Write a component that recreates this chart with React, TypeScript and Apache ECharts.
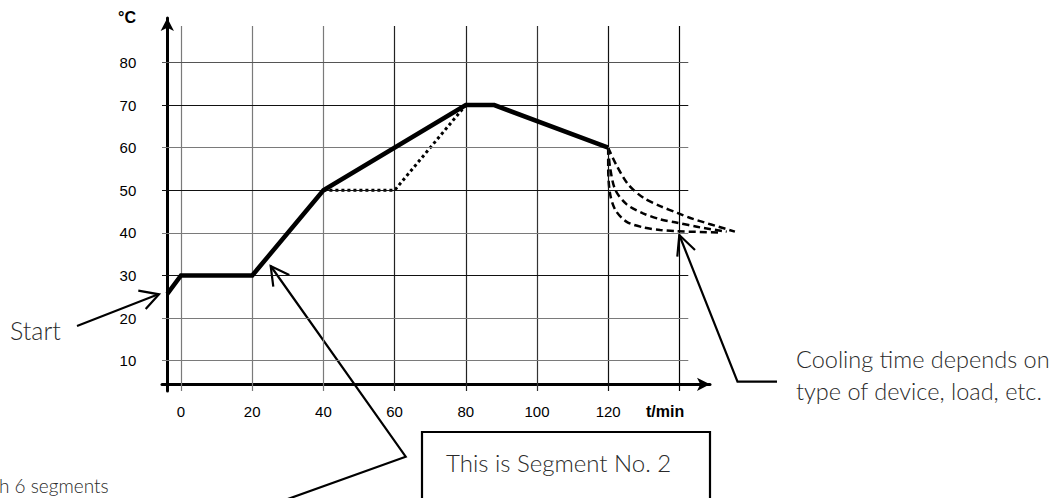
import React, { useEffect, useRef } from "react";
import * as echarts from "echarts";

// ---- data ----
const xTicks = [0, 20, 40, 60, 80, 100, 120, 140];
const xLabelValues = [0, 20, 40, 60, 80, 100, 120];
const yTicks = [10, 20, 30, 40, 50, 60, 70, 80];
const xGridColors = ["#7a7a7a", "#7a7a7a", "#7a7a7a", "#222", "#222", "#333", "#111", "#000"];
const yGridColors = ["#7a7a7a", "#7a7a7a", "#111", "#7a7a7a", "#111", "#7a7a7a", "#111", "#555"];

const programTime = [-3.85, 0, 20, 40, 80, 88, 120];
const programTemp = [25.7, 30, 30, 50, 70, 70, 60];

const altTime = [40, 60, 80];
const altTemp = [50, 50, 70];

const cool1Time = [120, 122.2, 125.6, 129.8, 134.6, 139.4, 143.8, 155.6];
const cool1Temp = [60, 56.1, 51.4, 48.3, 46.3, 44.7, 43.3, 40.3];
const cool2Time = [120, 120.5, 122, 125.2, 129.8, 134.6, 139.4, 145.8, 153.3];
const cool2Temp = [60, 55.5, 50.1, 46.7, 44.6, 43.2, 42.4, 41.3, 40.3];
const cool3Time = [120, 120, 120.5, 122, 125.2, 129.9, 134.6, 139.2, 151];
const cool3Temp = [60, 55.5, 49.3, 45.4, 42.6, 41.3, 40.7, 40.4, 40.1];

const X_MIN = -5.34;
const X_MAX = 148.6;
const Y_MIN = 2.89;
const Y_MAX = 90.45;
const GRID_W = 548;
const GRID2_W = 620;
const X2_MAX = X_MIN + ((X_MAX - X_MIN) * GRID2_W) / GRID_W;

const zip = (a: number[], b: number[]) => a.map((v, i) => [v, b[i]]);

const thin = "Lato";
const thinColor = "#2a2a2a";

export default function App() {
  const ref = useRef<HTMLDivElement>(null);
  useEffect(() => {
    if (!ref.current) return;
    const chart = echarts.init(ref.current, null, { renderer: "svg" });

    const gridMarks: any[] = [];
    xTicks.forEach((t, i) => {
      gridMarks.push([
        { coord: [t, Y_MIN], lineStyle: { color: xGridColors[i], width: 1.2, type: "solid" } },
        { coord: [t, 88.6] },
      ]);
    });
    yTicks.forEach((t, i) => {
      gridMarks.push([
        { coord: [X_MIN, t], lineStyle: { color: yGridColors[i], width: 1.2, type: "solid" } },
        { coord: [142.5, t] },
      ]);
    });

    const coolStyle = { color: "#000", width: 2.5, type: [7, 4] as any };
    const labelStyle = { fontFamily: "Liberation Sans", fontSize: 15, color: "#000" };

    chart.setOption({
      animation: false,
      backgroundColor: "#fff",
      grid: [
        { left: 162, top: 18, width: GRID_W, height: 373, containLabel: false, outerBoundsMode: "none" },
        { left: 162, top: 18, width: GRID2_W, height: 373, containLabel: false, outerBoundsMode: "none" },
      ],
      xAxis: [
        {
          type: "value",
          gridIndex: 0,
          min: X_MIN,
          max: X_MAX,
          offset: -6.7,
          axisLine: {
            show: true,
            onZero: false,
            symbol: ["none", "arrow"],
            symbolSize: [10, 13],
            lineStyle: { color: "#000", width: 3 },
          },
          axisTick: { show: false },
          splitLine: { show: false },
          axisLabel: { customValues: xLabelValues, margin: 20, ...labelStyle },
        },
        { type: "value", gridIndex: 1, min: X_MIN, max: X2_MAX, show: false },
      ],
      yAxis: [
        {
          type: "value",
          gridIndex: 0,
          min: Y_MIN,
          max: Y_MAX,
          offset: -5.3,
          axisLine: {
            show: true,
            onZero: false,
            symbol: ["none", "arrow"],
            symbolSize: [10, 13],
            lineStyle: { color: "#000", width: 3 },
          },
          axisTick: { show: false },
          splitLine: { show: false },
          axisLabel: { customValues: yTicks, margin: 31, ...labelStyle },
        },
        { type: "value", gridIndex: 1, min: Y_MIN, max: Y_MAX, show: false },
      ],
      series: [
        {
          type: "line",
          name: "grid",
          data: [],
          z: 1,
          silent: true,
          markLine: { silent: true, symbol: "none", label: { show: false }, data: gridMarks },
        },
        {
          type: "line",
          name: "Program",
          data: zip(programTime, programTemp),
          symbol: "none",
          clip: false,
          z: 5,
          lineStyle: { color: "#000", width: 4.5, join: "miter" },
        },
        {
          type: "line",
          name: "Alternative",
          data: zip(altTime, altTemp),
          symbol: "none",
          clip: false,
          z: 4,
          lineStyle: { color: "#000", width: 3, type: [3, 3] },
        },
        { type: "line", name: "Cooling 1", xAxisIndex: 1, yAxisIndex: 1, data: zip(cool1Time, cool1Temp), symbol: "none", smooth: 0.3, clip: false, z: 4, lineStyle: coolStyle },
        { type: "line", name: "Cooling 2", xAxisIndex: 1, yAxisIndex: 1, data: zip(cool2Time, cool2Temp), symbol: "none", smooth: 0.3, clip: false, z: 4, lineStyle: coolStyle },
        { type: "line", name: "Cooling 3", xAxisIndex: 1, yAxisIndex: 1, data: zip(cool3Time, cool3Temp), symbol: "none", smooth: 0.3, clip: false, z: 4, lineStyle: coolStyle },
      ],
      graphic: [
        { type: "text", left: 118, top: 9, style: { text: "°C", font: "bold 16px 'Liberation Sans'", fill: "#000" } },
        { type: "text", left: 646, top: 403, style: { text: "t/min", font: "bold 16px 'Liberation Sans'", fill: "#000" } },
        // Start annotation
        { type: "text", left: 10, top: 317, style: { text: "Start", fontFamily: thin, fontWeight: 300, fontSize: 25, fill: thinColor } },
        { type: "line", shape: { x1: 77, y1: 326, x2: 159, y2: 294 }, style: { stroke: "#000", lineWidth: 2.2 } },
        { type: "polyline", shape: { points: [[138.3, 290.7], [159, 294.3], [145.7, 309]] }, style: { stroke: "#000", lineWidth: 2.2, fill: null } },
        // Segment 2 annotation
        { type: "polyline", shape: { points: [[270.7, 266], [405.7, 456.7], [285, 500]] }, style: { stroke: "#000", lineWidth: 2.2, fill: null } },
        { type: "polyline", shape: { points: [[289.3, 275], [270.7, 266], [273.3, 286.7]] }, style: { stroke: "#000", lineWidth: 2.2, fill: null } },
        { type: "rect", shape: { x: 422, y: 432, width: 288, height: 80 }, style: { stroke: "#000", lineWidth: 2.2, fill: "#fff" } },
        { type: "text", left: 446, top: 450, style: { text: "This is Segment No. 2", fontFamily: thin, fontWeight: 300, fontSize: 24, fill: thinColor } },
        { type: "text", left: -1, top: 476, style: { text: "h 6 segments", fontFamily: thin, fontWeight: 300, fontSize: 19, fill: thinColor } },
        // Cooling annotation
        { type: "polyline", shape: { points: [[679.3, 235], [737.5, 381.7], [777, 381.7]] }, style: { stroke: "#000", lineWidth: 2.2, fill: null } },
        { type: "polyline", shape: { points: [[695, 250], [679.3, 235], [677.3, 256.7]] }, style: { stroke: "#000", lineWidth: 2.2, fill: null } },
        { type: "text", left: 796, top: 347, style: { text: "Cooling time depends on", fontFamily: thin, fontWeight: 300, fontSize: 23.5, fill: thinColor } },
        { type: "text", left: 796, top: 379, style: { text: "type of device, load, etc.", fontFamily: thin, fontWeight: 300, fontSize: 23.5, fill: thinColor } },
      ],
    });
    return () => chart.dispose();
  }, []);
  return (
    <div
      ref={ref}
      style={{ position: "fixed", left: 0, top: 0, width: 1061, height: 498, background: "#fff" }}
    />
  );
}
